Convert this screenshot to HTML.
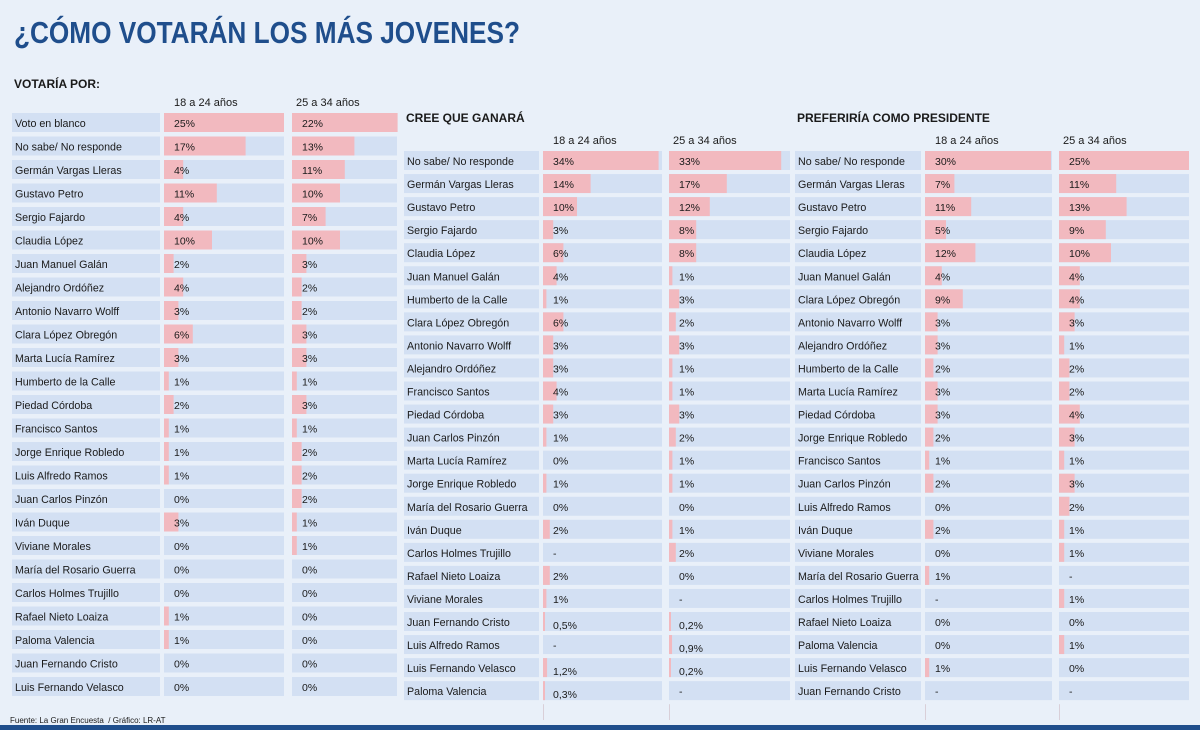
<!DOCTYPE html>
<html><head><meta charset="utf-8">
<style>
body{margin:0;background:#e9f0f9;}
#root{position:relative;width:1200px;height:730px;overflow:hidden;background:#e9f0f9;font-family:"Liberation Sans",sans-serif;color:#1a1a1a;}
.t{position:absolute;white-space:nowrap;}
</style></head>
<body>
<div id="root">
<div class="t" style="left:14px;top:15px;font-size:31px;font-weight:bold;color:#1f4e8c;transform:scaleX(0.845);transform-origin:left top;">¿CÓMO VOTARÁN LOS MÁS JOVENES?</div>
<div class="t" style="left:10px;top:716px;font-size:8px;">Fuente: La Gran Encuesta &nbsp;/ Gráfico: LR-AT</div>
<div style="position:absolute;left:0;top:725px;width:1200px;height:5px;background:#1f4e8c;"></div>
<svg id="chart" width="1200" height="730" style="position:absolute;left:0;top:0"></svg>
</div>
<script>
const p1Names=["Voto en blanco","No sabe/ No responde","Germán Vargas Lleras","Gustavo Petro","Sergio Fajardo","Claudia López","Juan Manuel Galán","Alejandro Ordóñez","Antonio Navarro Wolff","Clara López Obregón","Marta Lucía Ramírez","Humberto de la Calle","Piedad Córdoba","Francisco Santos","Jorge Enrique Robledo","Luis Alfredo Ramos","Juan Carlos Pinzón","Iván Duque","Viviane Morales","María del Rosario Guerra","Carlos Holmes Trujillo","Rafael Nieto Loaiza","Paloma Valencia","Juan Fernando Cristo","Luis Fernando Velasco"];
const p1A=[25,17,4,11,4,10,2,4,3,6,3,1,2,1,1,1,0,3,0,0,0,1,1,0,0];
const p1B=[22,13,11,10,7,10,3,2,2,3,3,1,3,1,2,2,2,1,1,0,0,0,0,0,0];
const p2Names=["No sabe/ No responde","Germán Vargas Lleras","Gustavo Petro","Sergio Fajardo","Claudia López","Juan Manuel Galán","Humberto de la Calle","Clara López Obregón","Antonio Navarro Wolff","Alejandro Ordóñez","Francisco Santos","Piedad Córdoba","Juan Carlos Pinzón","Marta Lucía Ramírez","Jorge Enrique Robledo","María del Rosario Guerra","Iván Duque","Carlos Holmes Trujillo","Rafael Nieto Loaiza","Viviane Morales","Juan Fernando Cristo","Luis Alfredo Ramos","Luis Fernando Velasco","Paloma Valencia"];
const p2A=[34,14,10,3,6,4,1,6,3,3,4,3,1,0,1,0,2,null,2,1,0.5,null,1.2,0.3];
const p2B=[33,17,12,8,8,1,3,2,3,1,1,3,2,1,1,0,1,2,0,null,0.2,0.9,0.2,null];
const p3Names=["No sabe/ No responde","Germán Vargas Lleras","Gustavo Petro","Sergio Fajardo","Claudia López","Juan Manuel Galán","Clara López Obregón","Antonio Navarro Wolff","Alejandro Ordóñez","Humberto de la Calle","Marta Lucía Ramírez","Piedad Córdoba","Jorge Enrique Robledo","Francisco Santos","Juan Carlos Pinzón","Luis Alfredo Ramos","Iván Duque","Viviane Morales","María del Rosario Guerra","Carlos Holmes Trujillo","Rafael Nieto Loaiza","Paloma Valencia","Luis Fernando Velasco","Juan Fernando Cristo"];
const p3A=[30,7,11,5,12,4,9,3,3,2,3,3,2,1,2,0,2,0,1,null,0,0,1,null];
const p3B=[25,11,13,9,10,4,4,3,1,2,2,4,3,1,3,2,1,1,null,1,0,1,0,null];

const svg=document.getElementById('chart');
const NS="http://www.w3.org/2000/svg";
function el(tag,attrs,parent){const e=document.createElementNS(NS,tag);for(const k in attrs)e.setAttribute(k,attrs[k]);(parent||svg).appendChild(e);return e;}
function txt(x,y,s,opt,parent){const t=el('text',Object.assign({x:x,y:y,'font-family':'Liberation Sans, sans-serif','font-size':11,fill:'#1a1a1a'},opt||{}),parent);t.textContent=s;return t;}
function fmt(v){return v===null?'-':(String(v).replace('.',','))+'%';}

const panels=[
 {key:'votaria',title:'VOTARÍA POR:',titleY:88,headY:106,names:p1Names,a:p1A,b:p1B,y0:113,step:23.5,
  lx:12,lw:148,c1:164,c1w:120,s1:4.8,c2:292,c2w:105,s2:4.8,lines:false},
 {key:'cree-ganara',title:'CREE QUE GANARÁ',titleY:122,headY:144,names:p2Names,a:p2A,b:p2B,y0:151,step:23.05,
  lx:404,lw:135,c1:543,c1w:119,s1:3.4,c2:669,c2w:121,s2:3.4,lines:true},
 {key:'preferiria',title:'PREFERIRÍA COMO PRESIDENTE',titleY:122,headY:144,names:p3Names,a:p3A,b:p3B,y0:151,step:23.05,
  lx:795,lw:126,c1:925,c1w:127,s1:4.2,c2:1059,c2w:130,s2:5.2,lines:true}
];
panels.forEach(p=>{
 const g=el('g',{});
 
 
 const tt=txt(p.lx+2,p.titleY,p.title,{'font-weight':'bold','font-size':12},g);
 
 
 const h1=txt(p.c1+10,p.headY,'18 a 24 años',{'font-size':11},g);
 
 
 const h2=txt(p.c2+4,p.headY,'25 a 34 años',{'font-size':11},g);
 
 
 if(p.lines){
  const end=p.y0+p.names.length*p.step;
  [p.c1,p.c2].forEach(cx=>{
   const l=el('rect',{x:cx,y:end,width:1,height:720-end,fill:'#d9cfd8'},g);
   
   
  });
 }
 p.names.forEach((n,i)=>{
  const y=p.y0+i*p.step, h=19;
  const r=el('g',{},g);
  
  
  el('rect',{x:p.lx,y:y,width:p.lw,height:h,fill:'#d3e0f3'},r);
  el('rect',{x:p.c1,y:y,width:p.c1w,height:h,fill:'#d3e0f3'},r);
  el('rect',{x:p.c2,y:y,width:p.c2w,height:h,fill:'#d3e0f3'},r);
  txt(p.lx+3,y+14,n,{'font-size':10.7},r);
  [[p.a[i],p.c1,p.s1,'18-24'],[p.b[i],p.c2,p.s2,'25-34']].forEach(([v,cx,s,lab])=>{
   if(v!==null&&v>0){
    const b=el('rect',{x:cx,y:y,width:Math.max(v*s,2),height:h,fill:'#f2b9bf'},r);
    
    
   }
   const dy=(v!==null&&v%1!==0)?17:14;
   txt(cx+10,y+dy,fmt(v),{'font-size':10.5},r);
  });
 });
});
</script>
</body></html>
